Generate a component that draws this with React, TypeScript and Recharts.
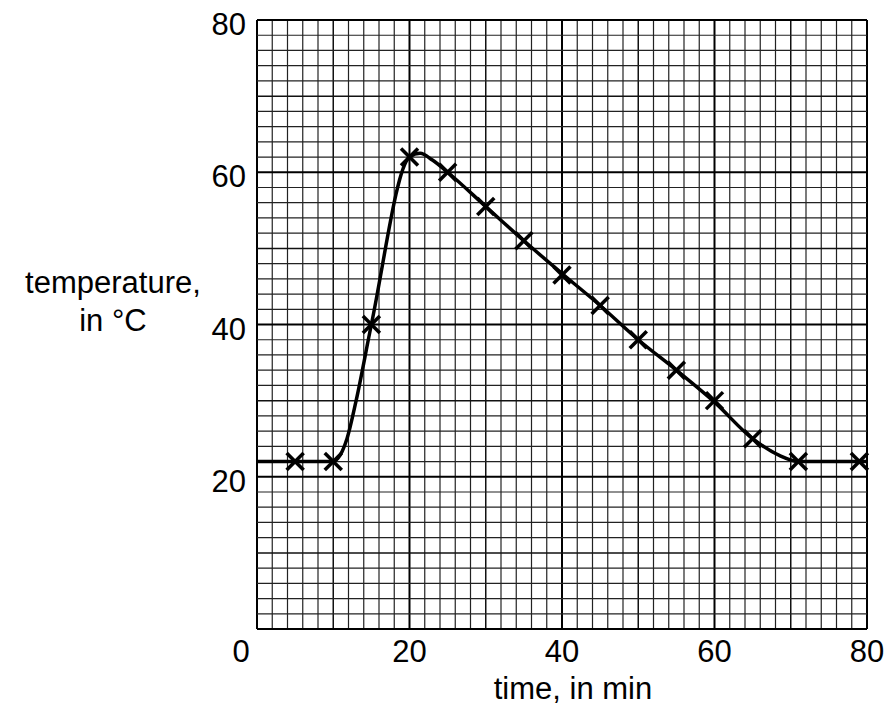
import { ComposedChart, Line, Scatter, XAxis, YAxis, ReferenceLine } from "recharts";

// measured readings (crosses)
const measuredTimes = [5, 10, 15, 20, 25, 30, 35, 40, 45, 50, 55, 60, 65, 71, 79];
const measuredTemps = [22, 22, 40, 62, 60, 55.5, 51, 46.5, 42.5, 38, 34, 30, 25, 22, 22];

// hand-drawn curve of best fit
const curveTimes = [0, 10, 10.6, 11.8, 13, 15, 20, 21.4, 23, 25, 30, 35, 40, 45, 50, 55, 60, 65, 68.5, 71, 80];
const curveTemps = [22, 22, 22.4, 25, 30, 40, 62, 62.5, 61.6, 60, 55.5, 51, 46.7, 42.5, 38, 34, 29.8, 25, 22.8, 22, 22];

const xTicks = [0, 20, 40, 60, 80];
const yTicks = [20, 40, 60, 80];

// graph paper: small squares every 2 units
const gridSteps = Array.from({ length: 41 }, (_, i) => i * 2);

const FONT = '"Liberation Sans", Arial, Helvetica, sans-serif';

const measured = measuredTimes.map((t, i) => ({ x: t, y: measuredTemps[i] }));
const curve = curveTimes.map((t, i) => ({ x: t, y: curveTemps[i] }));

const gridStyle = (v: number) => {
  if (v % 20 === 0) return { stroke: "#000", strokeWidth: 2 };
  if (v % 10 === 0) return { stroke: "#111", strokeWidth: 1.5 };
  return { stroke: "#222", strokeWidth: 1.2 };
};

const Cross = (props: any) => {
  const { cx, cy } = props;
  const s = 8.5;
  return (
    <g stroke="#000" strokeWidth={3.5}>
      <line x1={cx - s} y1={cy - s} x2={cx + s} y2={cy + s} />
      <line x1={cx - s} y1={cy + s} x2={cx + s} y2={cy - s} />
    </g>
  );
};

const XTick = (props: any) => {
  const { x, y, payload } = props;
  const shift = payload.value === 0 ? -16 : 0;
  return (
    <text x={x + shift} y={y} dy={25} textAnchor="middle" fontSize={31} fontFamily={FONT} fill="#000">
      {payload.value}
    </text>
  );
};

const YTick = (props: any) => {
  const { x, y, payload } = props;
  return (
    <text x={x} y={y} dx={-3} dy={15} textAnchor="end" fontSize={31} fontFamily={FONT} fill="#000">
      {payload.value}
    </text>
  );
};

export default function App() {
  return (
    <div style={{ position: "absolute", left: 0, top: 0, background: "#fff" }}>
      <ComposedChart width={885} height={709} margin={{ top: 20, right: 18, bottom: 0, left: 0 }}>
        <XAxis
          type="number"
          dataKey="x"
          domain={[0, 80]}
          ticks={xTicks}
          axisLine={false}
          tickLine={false}
          tick={<XTick />}
          height={80}
          label={{
            content: ({ viewBox }: any) => (
              <text x={viewBox.x + viewBox.width / 2 + 11} y={viewBox.y + 70} textAnchor="middle" fontSize={31} fontFamily={FONT} fill="#000">
                time, in min
              </text>
            ),
          }}
        />
        <YAxis
          type="number"
          dataKey="y"
          domain={[0, 80]}
          ticks={yTicks}
          axisLine={false}
          tickLine={false}
          tick={<YTick />}
          width={257}
          label={{
            content: ({ viewBox }: any) => (
              <text textAnchor="middle" fontSize={31} fontFamily={FONT} fill="#000">
                <tspan x={viewBox.x + 113} y={293}>temperature,</tspan>
                <tspan x={viewBox.x + 113} y={331}>in °C</tspan>
              </text>
            ),
          }}
        />
        {gridSteps.map((v) => (
          <ReferenceLine key={`gx-${v}`} x={v} {...gridStyle(v)} />
        ))}
        {gridSteps.map((v) => (
          <ReferenceLine key={`gy-${v}`} y={v} {...gridStyle(v)} />
        ))}
        <Line
          data={curve}
          dataKey="y"
          type="monotone"
          stroke="#000"
          strokeWidth={3.5}
          dot={false}
          activeDot={false}
          isAnimationActive={false}
        />
        <Scatter data={measured} dataKey="y" shape={<Cross />} isAnimationActive={false} />
      </ComposedChart>
    </div>
  );
}
